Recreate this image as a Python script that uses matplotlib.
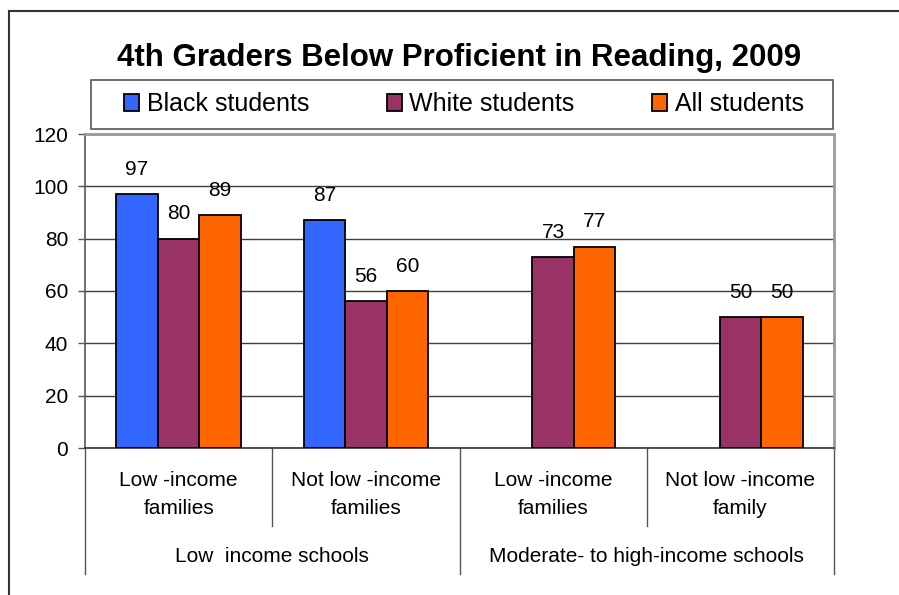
import matplotlib
matplotlib.use("Agg")
import matplotlib.pyplot as plt
from matplotlib.patches import Rectangle, Patch
from matplotlib.lines import Line2D
import matplotlib.transforms as mtransforms
import numpy as np

plt.rcParams['font.family'] = ['Liberation Sans', 'DejaVu Sans']

title = "4th Graders Below Proficient in Reading, 2009"
series_names = ["Black students", "White students", "All students"]
categories = ["Low -income\nfamilies", "Not low -income\nfamilies",
              "Low -income\nfamilies", "Not low -income\nfamily"]
groups = ["Low  income schools", "Moderate- to high-income schools"]
black = [97, 87, None, None]
white = [80, 56, 73, 50]
all_students = [89, 60, 77, 50]
yticks = [0, 20, 40, 60, 80, 100, 120]
colors = ["#3366FF", "#993366", "#FF6600"]

W, H = 899, 595
fig = plt.figure(figsize=(W / 100, H / 100), dpi=100)
fig.patch.set_facecolor("white")

left, right, top, bottom = 85, 834, 134, 448
ax = fig.add_axes([left / W, 1 - bottom / H, (right - left) / W, (bottom - top) / H])

x = np.arange(len(categories))
bw = 0.222
series = [black, white, all_students]
for i, (vals, c) in enumerate(zip(series, colors)):
    xs = [xi + (i - 1) * bw for xi, v in zip(x, vals) if v is not None]
    vs = [v for v in vals if v is not None]
    ax.bar(xs, vs, width=bw, color=c, edgecolor="black", linewidth=1.3, zorder=3)
    for xi, v in zip(xs, vs):
        ax.annotate(str(v), (xi, v), xytext=(0, 14), textcoords="offset points",
                    ha="center", va="baseline", fontsize=15, color="black")

ax.set_xlim(-0.5, len(categories) - 0.5)
ax.set_ylim(0, 120)
ax.set_yticks(yticks)
ax.set_yticklabels([str(t) for t in yticks], fontsize=15)
ax.tick_params(axis="y", direction="out", length=5, width=1, color="#555555", pad=7)
ax.set_xticks([])
ax.yaxis.grid(True, color="#404040", linewidth=1)
ax.set_axisbelow(True)
for s in ["top", "right"]:
    ax.spines[s].set_color("#999999")
    ax.spines[s].set_linewidth(2)
ax.spines["left"].set_color("#555555")
ax.spines["bottom"].set_color("#333333")
ax.spines["left"].set_linewidth(1.2)
ax.spines["bottom"].set_linewidth(1.2)

# multi-level x axis
h = bottom - top
def ay(py):
    return (bottom - py) / h
trans = mtransforms.blended_transform_factory(ax.transData, ax.transAxes)
for xi, lab in enumerate(categories):
    lines = lab.split("\n")
    for j, ln in enumerate(lines):
        ax.text(xi, ay(480 + 28 * j), ln, transform=trans, ha="center", va="center", fontsize=15)
for xb in [0.5, 2.5]:
    ax.plot([xb, xb], [0, ay(526)], transform=trans, color="#555555", lw=1, clip_on=False)
for xb in [-0.5, 1.5, 3.5]:
    ax.plot([xb, xb], [0, ay(574)], transform=trans, color="#555555", lw=1, clip_on=False)
for gi, g in enumerate(groups):
    ax.text(gi * 2 + 0.5, ay(557), g, transform=trans, ha="center", va="center", fontsize=15)

# title
fig.text(459 / W, 1 - 58 / H, title, ha="center", va="center", fontsize=22.5, fontweight="bold")

# legend frame
fig.add_artist(Rectangle((91 / W, 1 - 129 / H), (833 - 91) / W, (129 - 80) / H,
                         transform=fig.transFigure, fill=False, edgecolor="#555555", lw=1.2))
handles = [Patch(facecolor=c, edgecolor="black", linewidth=1.3) for c in colors]
fig.legend(handles, series_names, loc="center", bbox_to_anchor=(464 / W, 1 - 104 / H),
           ncol=3, frameon=False, fontsize=18, handlelength=0.6, handleheight=0.7,
           handletextpad=0.3, columnspacing=3.1)

# outer frame (left and top visible)
fig.add_artist(Line2D([9 / W, 9 / W], [0, 1 - 11 / H], transform=fig.transFigure, color="#333333", lw=1.5))
fig.add_artist(Line2D([9 / W, 1], [1 - 11 / H, 1 - 11 / H], transform=fig.transFigure, color="#333333", lw=1.5))

fig.savefig("out.png", dpi=100, facecolor="white")
